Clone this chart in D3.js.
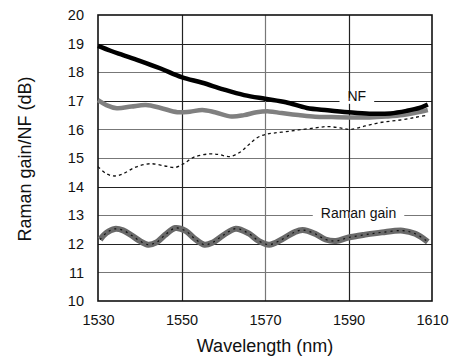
<!DOCTYPE html>
<html><head><meta charset="utf-8">
<script src="https://cdn.jsdelivr.net/npm/d3@7"></script>
<style>body{margin:0;background:#fff}svg{display:block}text{font-family:"Liberation Sans",Arial,sans-serif;fill:#111}</style>
</head><body><svg id="c" width="452" height="359"></svg>
<script>
const xTicks = [1530, 1550, 1570, 1590, 1610];
const yTicks = [10, 11, 12, 13, 14, 15, 16, 17, 18, 19, 20];

const nfBlack = [[1530,18.92],[1533,18.75],[1536,18.6],[1540,18.4],[1545,18.13],[1550,17.83],[1555,17.63],[1560,17.4],[1565,17.2],[1570,17.07],[1575,16.95],[1580,16.75],[1585,16.67],[1590,16.6],[1595,16.55],[1600,16.56],[1604,16.65],[1607,16.75],[1609,16.87]];
const nfGray = [[1530,17.02],[1532,16.85],[1534.5,16.74],[1538,16.8],[1541.5,16.85],[1545,16.75],[1549,16.6],[1552,16.62],[1555,16.68],[1558,16.6],[1562,16.45],[1565,16.5],[1568,16.6],[1571,16.63],[1574,16.57],[1578,16.5],[1582,16.44],[1586,16.43],[1590,16.42],[1595,16.42],[1599,16.45],[1603,16.5],[1606,16.58],[1609,16.68]];
const nfDotted = [[1530,14.7],[1532,14.45],[1534,14.37],[1536,14.45],[1539,14.68],[1542.5,14.8],[1546,14.72],[1548.5,14.67],[1550.5,14.8],[1553,15.03],[1556.5,15.14],[1559,15.12],[1561.5,15.05],[1564,15.2],[1566,15.45],[1568,15.7],[1570,15.82],[1572,15.87],[1575,15.92],[1578,15.98],[1582,16.05],[1585,16.1],[1588,16.05],[1590.5,16.0],[1594,16.12],[1598,16.25],[1602,16.32],[1606,16.42],[1609,16.5]];
const ramanGain = [[1530.5,12.15],[1532,12.38],[1534,12.52],[1536,12.47],[1538,12.3],[1540,12.1],[1542,11.97],[1544,12.05],[1546,12.3],[1548.5,12.55],[1551,12.45],[1553,12.2],[1555.5,11.97],[1557.5,12.05],[1560,12.3],[1563,12.53],[1566,12.37],[1568.5,12.1],[1571,11.97],[1574,12.15],[1577,12.4],[1579,12.48],[1582,12.35],[1584.5,12.15],[1587,12.1],[1590,12.22],[1594,12.32],[1598,12.4],[1603,12.46],[1606,12.35],[1609,12.07]];
const labels = [{text:"NF", x:1592, y:17, dy:0.5}, {text:"Raman gain", x:1592.4, y:13, dy:3}];

const svg = d3.select("#c");
const L = 98, R = 432, T = 15, B = 301;
const x = d3.scaleLinear().domain([1530, 1610]).range([L, R]);
const y = d3.scaleLinear().domain([10, 20]).range([B, T]);

// grid
const gridColor = v => (v % 2 === 1 ? "#222" : "#777");
svg.append("g").selectAll("line").data(yTicks.slice(1, -1)).join("line")
  .attr("x1", L).attr("x2", R).attr("y1", d => Math.round(y(d)) + 0.5).attr("y2", d => Math.round(y(d)) + 0.5)
  .attr("stroke", d => (d === 14 || d === 12 || d === 19 || d === 17 ? "#222" : "#777")).attr("stroke-width", 1.2);
svg.append("g").selectAll("line").data(xTicks.slice(1, -1)).join("line")
  .attr("y1", T).attr("y2", B).attr("x1", d => Math.round(x(d)) + 0.5).attr("x2", d => Math.round(x(d)) + 0.5)
  .attr("stroke", d => (d === 1570 ? "#777" : "#222")).attr("stroke-width", 1.2);

// axes (labels only)
const xa = svg.append("g").attr("transform", `translate(0,${B})`)
  .call(d3.axisBottom(x).tickValues(xTicks).tickSize(0).tickPadding(14).tickFormat(d3.format("d")));
xa.select(".domain").remove();
xa.selectAll("text").attr("font-size", 14.5).attr("fill", "#111").attr("font-family", "Liberation Sans, Arial, sans-serif");
const ya = svg.append("g").attr("transform", `translate(${L},0)`)
  .call(d3.axisLeft(y).tickValues(yTicks).tickSize(0).tickPadding(14).tickFormat(d3.format("d")));
ya.select(".domain").remove();
ya.selectAll("text").attr("font-size", 14.5).attr("fill", "#111").attr("font-family", "Liberation Sans, Arial, sans-serif");

// frame
svg.append("rect").attr("x", L).attr("y", T).attr("width", R - L).attr("height", B - T)
  .attr("fill", "none").attr("stroke", "#111").attr("stroke-width", 1.6);

// labels with white background over gridlines
labels.forEach(l => {
  const g = svg.append("g");
  const t = g.append("text").attr("x", x(l.x)).attr("y", y(l.y) + l.dy).attr("text-anchor", "middle")
    .attr("font-size", 14).text(l.text);
  const bb = t.node().getBBox();
  g.insert("rect", "text").attr("x", bb.x - 8).attr("y", y(l.y) - 3).attr("width", bb.width + 16).attr("height", 6).attr("fill", "#fff");
});

const line = d3.line().x(d => x(d[0])).y(d => y(d[1])).curve(d3.curveCatmullRom.alpha(0.5));

svg.append("path").datum(nfDotted).attr("d", line).attr("fill", "none").attr("stroke", "#111").attr("stroke-width", 1.3).attr("stroke-dasharray", "3,3");
svg.append("path").datum(nfGray).attr("d", line).attr("fill", "none").attr("stroke", "#808080").attr("stroke-width", 4.5);
svg.append("path").datum(nfBlack).attr("d", line).attr("fill", "none").attr("stroke", "#000").attr("stroke-width", 4.5);
svg.append("path").datum(ramanGain).attr("d", line).attr("fill", "none").attr("stroke", "#6a6a6a").attr("stroke-width", 6);
svg.append("path").datum(ramanGain).attr("d", line).attr("fill", "none").attr("stroke", "#111").attr("stroke-width", 1.2).attr("stroke-dasharray", "2,4");

// titles
svg.append("text").attr("x", (L + R) / 2).attr("y", 352).attr("text-anchor", "middle").attr("font-size", 18).text("Wavelength (nm)");
svg.append("text").attr("transform", `translate(31,159) rotate(-90)`).attr("text-anchor", "middle").attr("font-size", 18).text("Raman gain/NF (dB)");
</script></body></html>
